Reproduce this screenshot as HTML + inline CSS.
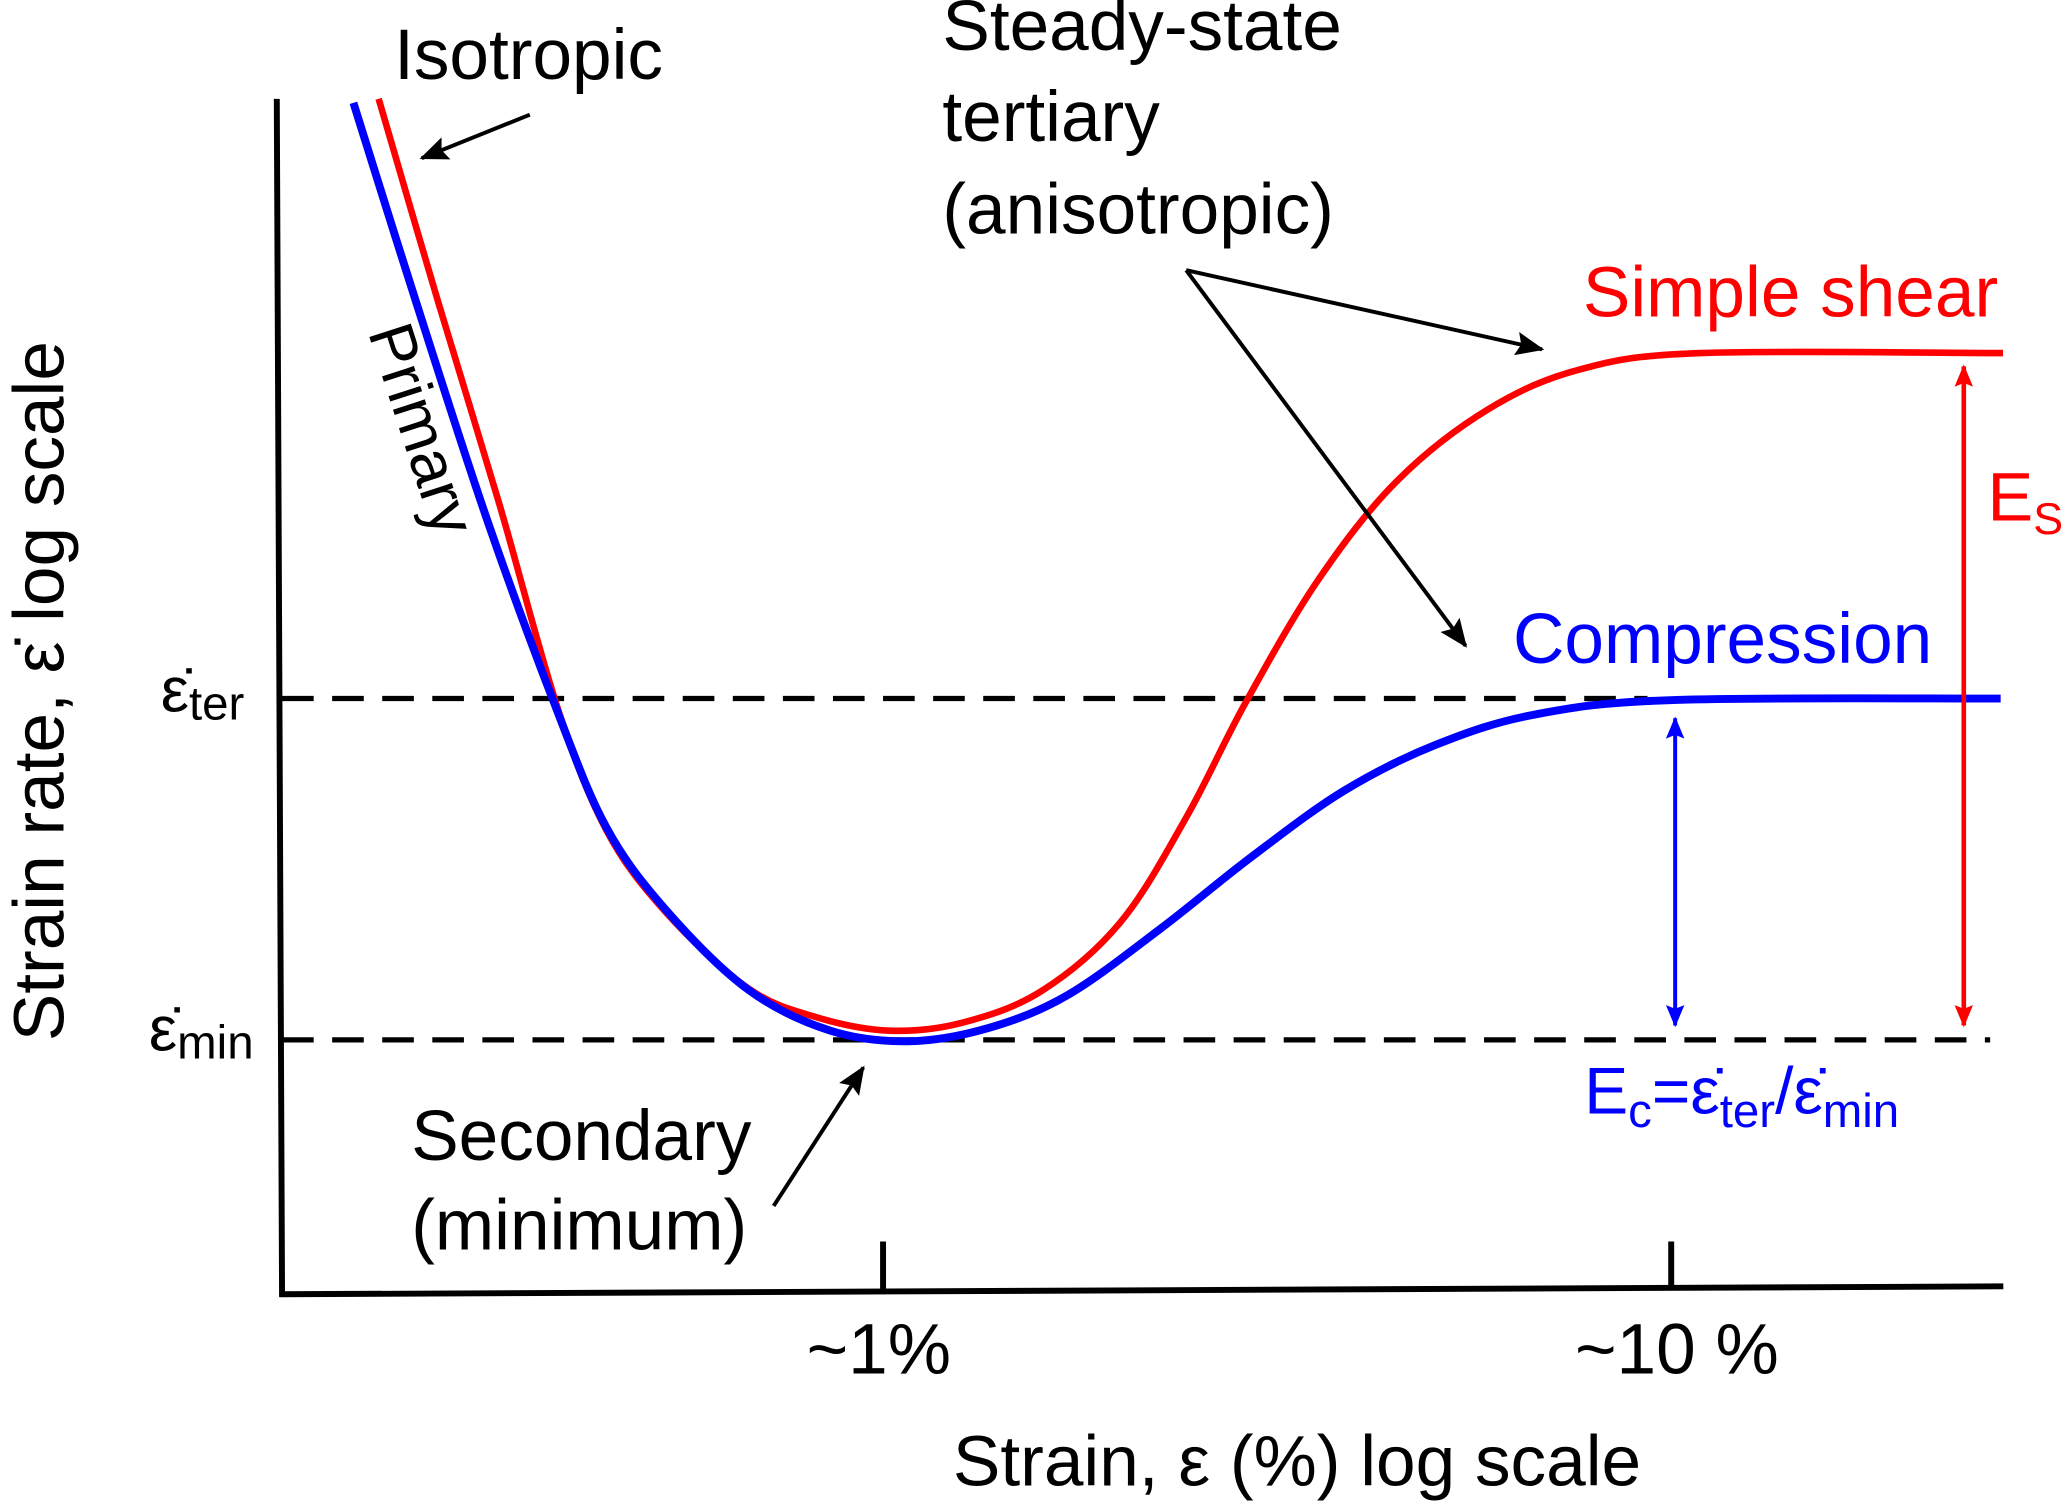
<!DOCTYPE html>
<html><head><meta charset="utf-8"><style>
html,body{margin:0;padding:0;background:#fff;}
svg{display:block;font-family:"Liberation Sans",Arial,sans-serif;}
</style></head><body>
<svg id="chart" width="2067" height="1510" viewBox="0 0 1568.3 1145.7" xmlns="http://www.w3.org/2000/svg">
<defs>
<marker id="ahk" viewBox="0 0 12 10" refX="11" refY="5" markerWidth="30" markerHeight="18" orient="auto" markerUnits="userSpaceOnUse"><path d="M0,0 L12,5 L0,10 L2,5 z" fill="#000"/></marker>
<marker id="ahr" viewBox="0 0 12 10" refX="11" refY="5" markerWidth="28" markerHeight="14" orient="auto-start-reverse" markerUnits="userSpaceOnUse"><path d="M0,0 L12,5 L0,10 L2,5 z" fill="#f00"/></marker>
<marker id="ahb" viewBox="0 0 12 10" refX="11" refY="5" markerWidth="28" markerHeight="14" orient="auto-start-reverse" markerUnits="userSpaceOnUse"><path d="M0,0 L12,5 L0,10 L2,5 z" fill="#00f"/></marker>
</defs>
<g id="axes">
<line x1="210" y1="75" x2="214" y2="984" stroke="#000" stroke-width="4.5"/>
<line x1="212" y1="982" x2="1520" y2="976" stroke="#000" stroke-width="4.5"/>
<line x1="670" y1="942" x2="670" y2="978" stroke="#000" stroke-width="4.5"/>
<line x1="1268" y1="942" x2="1268" y2="976" stroke="#000" stroke-width="4.5"/>
<line x1="214" y1="530" x2="1250" y2="530" stroke="#000" stroke-width="4" stroke-dasharray="24,14"/>
<line x1="214" y1="789" x2="1510" y2="789" stroke="#000" stroke-width="4" stroke-dasharray="24,14"/>
</g>
<g id="curves"></g>
<g stroke="#000" stroke-width="3" fill="none">
<line x1="402" y1="87" x2="320" y2="120" marker-end="url(#ahk)"/>
<line x1="900" y1="205" x2="1170" y2="265" marker-end="url(#ahk)"/>
<line x1="900" y1="205" x2="1112" y2="490" marker-end="url(#ahk)"/>
<line x1="587" y1="915" x2="655" y2="810" marker-end="url(#ahk)"/>
</g>
<line x1="1490" y1="278" x2="1490" y2="778" stroke="#f00" stroke-width="3.5" marker-start="url(#ahr)" marker-end="url(#ahr)"/>
<line x1="1271" y1="545" x2="1271" y2="778" stroke="#00f" stroke-width="3" marker-start="url(#ahb)" marker-end="url(#ahb)"/>
<g font-size="54" fill="#000">
<text x="299" y="60">Isotropic</text>
<text x="715" y="38">Steady-state</text>
<text x="715" y="107">tertiary</text>
<text x="715" y="177">(anisotropic)</text>
<text x="312" y="880">Secondary</text>
<text x="312" y="948">(minimum)</text>
<text x="612" y="1042">~1%</text>
<text x="1195" y="1042">~10 %</text>
<text x="723" y="1127">Strain, ε (%) log scale</text>
<text transform="translate(48,790) rotate(-90)">Strain rate, ε̇ log scale</text>
<text transform="translate(279,252) rotate(72)" font-size="48">Primary</text>
<text x="122" y="540" font-size="48">ε̇<tspan font-size="36" dy="6">ter</tspan></text>
<text x="113" y="797" font-size="48">ε̇<tspan font-size="36" dy="6">min</tspan></text>
</g>
<text x="1201" y="240" font-size="54" fill="#f00">Simple shear</text>
<text x="1148" y="503" font-size="54" fill="#00f">Compression</text>
<text x="1508" y="395" font-size="52" fill="#f00">E<tspan font-size="34" dy="10">S</tspan></text>
<text x="1202" y="845" font-size="50" fill="#00f">E<tspan font-size="36" dy="10">c</tspan><tspan dy="-10">=ε̇</tspan><tspan font-size="36" dy="10">ter</tspan><tspan dy="-10">/ε̇</tspan><tspan font-size="36" dy="10">min</tspan></text>
</svg>
<script>
// x: log10(strain %), y: log strain-rate units (0 = emin, 1 = eter)
const shearX = [-0.640,-0.564,-0.487,-0.413,-0.351,-0.276,-0.171,-0.084,0.008,0.100,0.201,0.301,0.385,0.460,0.552,0.652,0.769,0.886,1.038,1.421];
const shearY = [2.757,2.158,1.571,0.973,0.614,0.375,0.151,0.066,0.027,0.050,0.143,0.344,0.653,0.988,1.347,1.637,1.849,1.965,2.012,2.012];
const compX = [-0.672,-0.592,-0.502,-0.413,-0.351,-0.276,-0.171,-0.067,0.033,0.134,0.234,0.351,0.468,0.585,0.702,0.829,1.007,1.418];
const compY = [2.745,2.158,1.521,0.961,0.622,0.382,0.147,0.027,-0.004,0.035,0.131,0.324,0.537,0.730,0.865,0.954,0.996,1.0];
function sx(v){return 670 + 598*v;}
function sy(v){return 789 - 259*v;}
function smoothPath(xs, ys){
  const p = xs.map((x,i)=>[sx(x), sy(ys[i])]);
  let d = 'M'+p[0][0]+','+p[0][1];
  for(let i=0;i<p.length-1;i++){
    const p0=p[Math.max(0,i-1)], p1=p[i], p2=p[i+1], p3=p[Math.min(p.length-1,i+2)];
    const c1=[p1[0]+(p2[0]-p0[0])/6, p1[1]+(p2[1]-p0[1])/6];
    const c2=[p2[0]-(p3[0]-p1[0])/6, p2[1]-(p3[1]-p1[1])/6];
    d += ' C'+c1[0]+','+c1[1]+' '+c2[0]+','+c2[1]+' '+p2[0]+','+p2[1];
  }
  return d;
}
const g = document.getElementById('curves');
const NS='http://www.w3.org/2000/svg';
const red = document.createElementNS(NS,'path');
red.setAttribute('d', smoothPath(shearX, shearY));
red.setAttribute('stroke','#f00'); red.setAttribute('stroke-width','5'); red.setAttribute('fill','none');


g.appendChild(red);
const blue = document.createElementNS(NS,'path');
blue.setAttribute('d', smoothPath(compX, compY));
blue.setAttribute('stroke','#00f'); blue.setAttribute('stroke-width','6'); blue.setAttribute('fill','none');


g.appendChild(blue);
</script>
</body></html>
